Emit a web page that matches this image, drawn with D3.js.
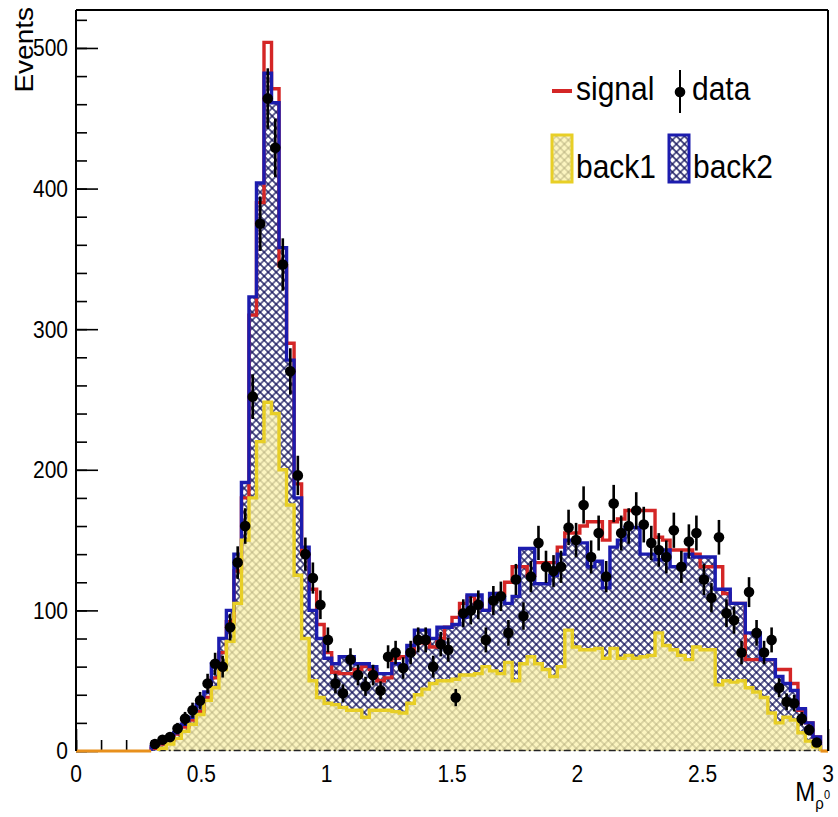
<!DOCTYPE html>
<html>
<head>
<meta charset="utf-8">
<script src="https://cdn.jsdelivr.net/npm/d3@7"></script>
<style>
  html, body { margin: 0; padding: 0; background: #fff; }
  svg { display: block; }
  text { font-family: "Liberation Sans", Arial, Helvetica, sans-serif; fill: #000; }
</style>
</head>
<body>
<div id="chart"></div>
<script>
// Histogram binning: 100 bins on [0, 3]
const nBins = 100, xMin = 0, xMax = 3;

// Observed counts per bin
const data = [
  0,0,0,0,0,0,0,0,0,0,
  5,8,10,16,23,29,36,48,62,60,
  88,134,160,252,375,464,429,346,270,196,
  140,123,104,79,48,41,65,54,46,54,
  43,67,70,59,70,79,79,60,76,72,
  38,98,100,104,79,107,110,84,122,96,
  124,148,131,128,131,159,150,175,138,155,
  124,176,155,160,171,161,148,143,138,157,
  131,149,155,122,109,152,98,93,70,113,
  84,70,79,45,35,34,23,15,6,0
];

// Background 1 (yellow hatched)
const back1 = [
  0,0,0,0,0,0,0,0,0,0,
  0,2,5,9,14,19,26,36,45,58,
  78,105,150,180,220,248,240,200,175,125,
  80,50,38,34,33,31,29,29,24,29,
  29,29,28,27,34,40,44,48,50,50,
  51,54,54,55,60,57,55,63,50,62,
  67,62,58,53,60,86,74,72,72,73,
  66,73,66,68,66,67,68,84,75,72,
  68,65,74,72,72,47,50,49,50,45,
  42,38,27,20,24,22,13,7,3,0
];

// Background 2 (blue cross-hatched)
const back2 = [
  0,0,0,0,0,0,0,0,0,0,
  3,6,9,13,19,24,33,42,62,80,
  100,140,191,323,404,482,461,358,278,180,
  145,100,80,66,62,67,67,62,62,60,
  55,55,62,60,75,86,86,80,88,88,
  90,95,111,111,100,112,110,105,110,144,
  144,119,119,125,140,150,150,148,131,135,
  116,145,150,159,159,140,140,136,143,131,
  131,140,138,138,138,115,115,105,105,84,
  84,65,65,53,48,43,30,20,10,0
];

// Signal (red outline)
const signal = [
  0,0,0,0,0,0,0,0,0,0,
  2,5,8,12,17,22,28,38,52,70,
  92,128,180,310,390,504,471,345,290,190,
  140,115,90,70,56,55,55,58,60,58,
  50,52,66,67,70,77,77,74,80,88,
  95,105,110,105,100,108,112,120,131,131,
  125,134,134,134,145,155,155,160,163,163,
  150,163,165,171,171,171,171,152,150,143,
  143,143,140,131,131,131,112,105,105,65,
  65,65,65,58,58,48,29,20,10,0
];

// Axis ticks and labels
const yMajorTicks = [0, 100, 200, 300, 400, 500];
const xMajorTicks = [0, 0.5, 1, 1.5, 2, 2.5, 3];
const xTickLabels = ["0", "0.5", "1", "1.5", "2", "2.5", "3"];
const yAxisTitle = "Events";
const legendEntries = ["signal", "data", "back1", "back2"];

const width = 838, height = 817;
const margin = { left: 76, top: 10, right: 10, bottom: 66 };
const yMax = 527;
const stretch = 1.12; // glyphs are drawn slightly tall

const colors = {
  back1Line: "#e8cf26",
  back1Fill: "#fcf5c0",
  back1Hatch: "#aea676",
  back2Line: "#1c1cae",
  back2Hatch: "#12125a",
  signal: "#d42626",
  base: "#e8901c"
};

const x = d3.scaleLinear().domain([xMin, xMax]).range([margin.left, width - margin.right]);
const y = d3.scaleLinear().domain([0, yMax]).range([height - margin.bottom, margin.top]);

const binW = (xMax - xMin) / nBins;
const edges = d3.range(nBins + 1).map(i => xMin + i * binW);

const svg = d3.select("#chart").append("svg")
  .attr("width", width).attr("height", height);

const defs = svg.append("defs");
function crossHatch(id, s, color, sw, bg) {
  const p = defs.append("pattern")
    .attr("id", id)
    .attr("patternUnits", "userSpaceOnUse")
    .attr("width", s).attr("height", s)
    .attr("patternTransform", "rotate(45)");
  if (bg) p.append("rect").attr("width", s).attr("height", s).attr("fill", bg);
  p.append("path")
    .attr("d", `M0,${s / 2}H${s}M${s / 2},0V${s}`)
    .attr("stroke", color).attr("stroke-width", sw).attr("fill", "none");
}
crossHatch("hatchBack1", 5.66, colors.back1Hatch, 0.8, colors.back1Fill);
crossHatch("hatchBack2", 5.66, colors.back2Hatch, 1.25, null);

// ---- axes (ticks point inward) ----
const yAxisMajor = d3.axisLeft(y).tickValues(yMajorTicks).tickSizeInner(-22).tickSizeOuter(0).tickFormat("");
const yAxisMinor = d3.axisLeft(y).tickValues(d3.range(0, yMax, 20)).tickSizeInner(-11).tickSizeOuter(0).tickFormat("");
const xAxisMajor = d3.axisBottom(x).tickValues(xMajorTicks).tickSizeInner(-22).tickSizeOuter(0).tickFormat("");
const xAxisMinor = d3.axisBottom(x).tickValues(d3.range(0, 30).map(i => i / 10)).tickSizeInner(-11).tickSizeOuter(0).tickFormat("");

function styleAxis(g) {
  g.select(".domain").remove();
  g.selectAll(".tick line").attr("stroke", "#000").attr("stroke-width", 1.6);
}
svg.append("g").attr("transform", `translate(${margin.left},0)`).call(yAxisMinor).call(styleAxis);
svg.append("g").attr("transform", `translate(${margin.left},0)`).call(yAxisMajor).call(styleAxis);
svg.append("g").attr("transform", `translate(0,${y(0)})`).call(xAxisMinor).call(styleAxis);
svg.append("g").attr("transform", `translate(0,${y(0)})`).call(xAxisMajor).call(styleAxis);

// ---- histogram helpers ----
function stepPoints(arr) {
  let f = arr.findIndex(v => v > 0);
  let l = nBins - 1;
  while (l > 0 && arr[l] <= 0) l--;
  const pts = [[edges[f], 0]];
  for (let i = f; i <= l; i++) pts.push([edges[i], arr[i]]);
  pts.push([edges[l + 1], 0]);
  return pts;
}
const stepLine = d3.line().x(d => x(d[0])).y(d => y(d[1])).curve(d3.curveStepAfter);
const stepArea = d3.area().x(d => x(d[0])).y0(y(0)).y1(d => y(d[1])).curve(d3.curveStepAfter);

// fills
svg.append("path").attr("d", stepArea(stepPoints(back2))).attr("fill", "url(#hatchBack2)");
svg.append("path").attr("d", stepArea(stepPoints(back1))).attr("fill", "url(#hatchBack1)");

// dash-dot baseline under the filled region
const b1First = back1.findIndex(v => v > 0);
let b1Last = nBins - 1; while (back1[b1Last] <= 0) b1Last--;
svg.append("line")
  .attr("x1", x(edges[b1First])).attr("x2", x(edges[b1Last + 1]))
  .attr("y1", y(0) - 0.5).attr("y2", y(0) - 0.5)
  .attr("stroke", "#222").attr("stroke-width", 1.6)
  .attr("stroke-dasharray", "7,3,2,3");

// outlines
svg.append("path").attr("d", stepLine(stepPoints(signal)))
  .attr("fill", "none").attr("stroke", colors.signal).attr("stroke-width", 3.4);
svg.append("path").attr("d", stepLine(stepPoints(back2)))
  .attr("fill", "none").attr("stroke", colors.back2Line).attr("stroke-width", 3.4);
svg.append("path").attr("d", stepLine(stepPoints(back1)))
  .attr("fill", "none").attr("stroke", colors.back1Line).attr("stroke-width", 3.4);

// empty-bin baseline at both ends of the range
const anyFirst = d3.min([back1, back2, signal].map(a => a.findIndex(v => v > 0)));
const anyLast = d3.max([back1, back2, signal].map(a => { let l = nBins - 1; while (a[l] <= 0) l--; return l; }));
svg.append("line")
  .attr("x1", x(edges[0])).attr("x2", x(edges[anyFirst]))
  .attr("y1", y(0)).attr("y2", y(0))
  .attr("stroke", colors.base).attr("stroke-width", 3.2);
svg.append("line")
  .attr("x1", x(edges[anyLast + 1])).attr("x2", x(edges[nBins]))
  .attr("y1", y(0)).attr("y2", y(0))
  .attr("stroke", colors.base).attr("stroke-width", 3.2);

// ---- data points with sqrt(N) errors ----
const pts = data.map((v, i) => ({ x: (edges[i] + edges[i + 1]) / 2, v })).filter(d => d.v > 0);
const gData = svg.append("g");
gData.selectAll("line.err").data(pts).join("line")
  .attr("class", "err")
  .attr("x1", d => x(d.x)).attr("x2", d => x(d.x))
  .attr("y1", d => y(d.v + Math.sqrt(d.v))).attr("y2", d => y(Math.max(0, d.v - Math.sqrt(d.v))))
  .attr("stroke", "#000").attr("stroke-width", 2.6);
gData.selectAll("circle").data(pts).join("circle")
  .attr("cx", d => x(d.x)).attr("cy", d => y(d.v)).attr("r", 5.3)
  .attr("fill", "#000");

// ---- frame ----
svg.append("line").attr("x1", margin.left).attr("x2", margin.left)
  .attr("y1", margin.top).attr("y2", y(0)).attr("stroke", "#000").attr("stroke-width", 2);
svg.append("line").attr("x1", margin.left).attr("x2", width - margin.right)
  .attr("y1", margin.top).attr("y2", margin.top).attr("stroke", "#000").attr("stroke-width", 2);
svg.append("line").attr("x1", width - margin.right).attr("x2", width - margin.right)
  .attr("y1", margin.top).attr("y2", y(0)).attr("stroke", "#000").attr("stroke-width", 2);

// ---- tick labels ----
function label(g, tx, ty, txt, size, anchor, sx, sy, rot) {
  const t = g.append("g").attr("transform", `translate(${tx},${ty})${rot ? ` rotate(${rot})` : ""} scale(${sx},${sy})`);
  return t.append("text").attr("text-anchor", anchor).attr("font-size", size).text(txt);
}
const gLabels = svg.append("g");
yMajorTicks.forEach(v => {
  label(gLabels, margin.left - 8, y(v), String(v), 21, "end", 1, stretch).attr("dy", "0.36em");
});
xMajorTicks.forEach((v, i) => {
  label(gLabels, x(v), 782, xTickLabels[i], 21, "middle", 1, stretch);
});

// axis titles
label(gLabels, 33, 7, yAxisTitle, 25, "end", stretch, 1, -90);

const xt = gLabels.append("g").attr("transform", `translate(830,801) scale(1,${stretch})`);
const xtText = xt.append("text").attr("text-anchor", "end").attr("font-size", 24);
xtText.append("tspan").text("M");
xtText.append("tspan").attr("font-size", 15).attr("dy", 7).text("\u03C1");
xtText.append("tspan").attr("font-size", 11).attr("dy", -9).text("0");

// ---- legend ----
const lg = svg.append("g");
// signal
lg.append("line").attr("x1", 552).attr("x2", 572).attr("y1", 91).attr("y2", 91)
  .attr("stroke", colors.signal).attr("stroke-width", 4);
label(lg, 576, 100, legendEntries[0], 30, "start", 1, 1.12);
// data
lg.append("line").attr("x1", 680).attr("x2", 680).attr("y1", 70).attr("y2", 113)
  .attr("stroke", "#000").attr("stroke-width", 2);
lg.append("circle").attr("cx", 680).attr("cy", 92).attr("r", 5.3).attr("fill", "#000");
label(lg, 692, 100, legendEntries[1], 30, "start", 1, 1.12);
// back1
lg.append("rect").attr("x", 552).attr("y", 135).attr("width", 20).attr("height", 47)
  .attr("fill", "url(#hatchBack1)").attr("stroke", colors.back1Line).attr("stroke-width", 3);
label(lg, 576, 178, legendEntries[2], 30, "start", 1, 1.12);
// back2
lg.append("rect").attr("x", 669).attr("y", 135).attr("width", 20).attr("height", 47)
  .attr("fill", "url(#hatchBack2)").attr("stroke", colors.back2Line).attr("stroke-width", 3);
label(lg, 693, 178, legendEntries[3], 30, "start", 1, 1.12);
</script>
</body>
</html>
